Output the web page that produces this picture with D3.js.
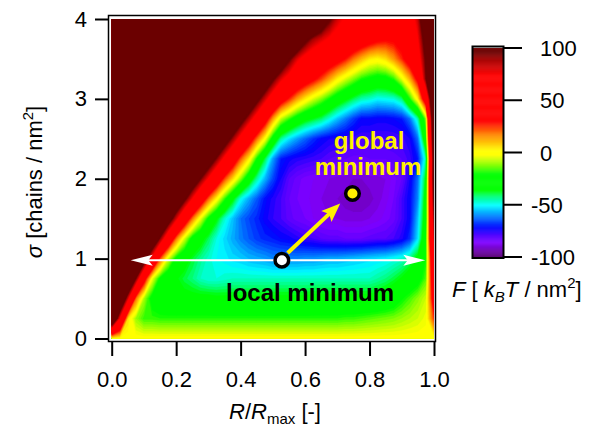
<!DOCTYPE html>
<html>
<head>
<meta charset="utf-8">
<script src="https://cdn.jsdelivr.net/npm/d3@7"></script>
<style>
  body { margin: 0; background: #fff; }
  text { font-family: "Liberation Sans", Arial, sans-serif; }
</style>
</head>
<body>
<svg id="chart" width="603" height="427"></svg>
<script>
// grid of the free energy map
const rGrid = [0, 0.025, 0.05, 0.075, 0.1, 0.125, 0.15, 0.175, 0.2, 0.225, 0.25, 0.275, 0.3, 0.325, 0.35, 0.375,
  0.4, 0.425, 0.45, 0.475, 0.5, 0.525, 0.55, 0.575, 0.6, 0.625, 0.65, 0.675, 0.7, 0.725, 0.75, 0.775,
  0.8, 0.825, 0.85, 0.875, 0.9, 0.925, 0.95, 0.975, 1.0];
const sigmaGrid = [0, 0.25, 0.5, 0.75, 1.0, 1.25, 1.5, 1.75, 2.0, 2.25, 2.5, 2.75, 3.0, 3.25, 3.5, 3.75, 4.0];

// one row per sigma value (bottom to top), one column per R/Rmax value
// (values above 100 sit in the clipped dark red region and are only guesses)
const F = [
  [0,0,0,0,0,0,0,0,0,0,0,0,0,0,0,0,0,0,0,0,0,0,0,0,0,0,0,0,0,0,0,0,0,0,0,0,0,0,0,0,0],
  [145,71,6,-10,-17,-17,-18,-18,-18,-18,-18,-18,-18,-18,-18,-18,-18,-18,-18,-18,-18,-18,-18,-18,-18,-18,-18,-18,-18,-17,-17,-16,-15,-14,-13,-12,-10,-8,-6,-3,25],
  [209,144,79,19,-9,-24,-29,-32,-33,-33,-33,-33,-33,-34,-34,-34,-34,-34,-34,-34,-34,-34,-34,-34,-34,-33,-33,-33,-33,-33,-33,-33,-33,-32,-30,-27,-21,-16,-11,-6,40],
  [263,207,151,95,39,-2,-22,-30,-35,-39,-42,-46,-48,-48,-47,-46,-46,-46,-46,-46,-46,-46,-46,-46,-46,-46,-46,-46,-46,-46,-46,-46,-46,-44,-42,-39,-35,-30,-25,-15,50],
  [299,253,206,160,114,67,23,-5,-23,-31,-38,-43,-47,-50,-51,-53,-54,-56,-57,-58,-60,-60,-60,-60,-59,-59,-58,-57,-57,-56,-55,-54,-53,-52,-51,-49,-47,-42,-33,-20,60],
  [324,285,247,208,169,131,92,53,19,-5,-24,-32,-40,-48,-53,-57,-61,-64,-67,-69,-70,-72,-73,-75,-77,-78,-80,-81,-81,-82,-82,-82,-81,-80,-80,-78,-75,-68,-52,-22,80],
  [346,313,279,246,213,180,147,114,80,47,19,-3,-22,-35,-47,-55,-62,-66,-69,-73,-76,-78,-81,-83,-84,-86,-87,-88,-88,-89,-89,-89,-88,-87,-85,-83,-78,-72,-55,-28,90],
  [359,331,302,274,245,217,188,160,131,103,74,46,21,2,-17,-34,-49,-57,-64,-71,-75,-78,-82,-84,-85,-87,-88,-89,-90,-91,-92,-92,-91,-89,-87,-84,-78,-72,-60,-30,100],
  [372,347,322,297,272,247,222,197,172,147,122,97,72,47,24,7,-11,-29,-44,-56,-66,-74,-80,-83,-85,-86,-87,-88,-89,-89,-90,-90,-89,-89,-88,-85,-82,-74,-62,-35,110],
  [414,389,365,340,316,291,266,242,217,193,168,143,119,94,69,45,22,4,-20,-39,-58,-70,-73,-75,-76,-77,-78,-80,-81,-82,-83,-83,-82,-82,-82,-81,-80,-77,-70,-45,110],
  [454,430,405,381,357,333,308,284,260,236,211,187,163,139,114,90,66,42,20,0,-25,-44,-52,-58,-63,-68,-72,-74,-75,-76,-77,-78,-78,-78,-78,-78,-77,-74,-62,-25,120],
  [475,452,429,406,384,361,338,315,292,269,246,224,201,178,155,132,109,86,63,40,14,-7,-17,-26,-33,-37,-41,-48,-55,-61,-67,-72,-72,-73,-73,-72,-70,-62,-45,-12,130],
  [555,530,505,480,455,430,405,380,355,330,305,280,255,230,205,180,155,130,105,82,60,40,27,14,4,-5,-12,-20,-28,-34,-40,-45,-47,-50,-49,-48,-42,-19,3,45,140],
  [600,575,550,525,500,475,450,425,400,375,350,325,300,275,250,225,200,175,150,125,100,79,65,51,41,33,24,14,3,-5,-12,-19,-22,-25,-24,-18,-4,12,34,95,150],
  [650,625,600,575,550,525,500,475,450,425,400,375,350,325,300,275,250,225,200,175,150,125,100,79,66,58,50,43,37,29,19,11,4,2,6,15,26,40,62,100,160],
  [705,680,655,630,605,580,555,530,505,480,455,430,405,380,355,330,305,280,255,230,205,180,155,130,105,89,80,72,64,57,50,44,39,34,32,33,38,50,73,110,170],
  [775,750,725,700,675,650,625,600,575,550,525,500,475,450,425,400,375,350,325,300,275,250,225,200,175,150,125,100,82,71,64,57,53,49,47,47,50,61,83,129,180]
];

const xTicks = [0, 0.2, 0.4, 0.6, 0.8, 1.0];
const yTicks = [0, 1, 2, 3, 4];
const cbTicks = [100, 50, 0, -50, -100];

const localMin = [0.528, 0.98];
const globalMin = [0.747, 1.815];
const hArrow = [[0.059, 0.98], [0.973, 0.98]];
const moveArrow = [[0.546, 1.07], [0.709, 1.69]];

// colour table
const colorStops = [-100, -93, -86, -79, -72, -62, -50, -42, -36, -20, -12, -2, 2, 10, 18, 30, 74, 90, 96, 100];
const colorRange = ["#58006e", "#6e00b4", "#8000ff", "#5000ff", "#0000ff", "#0070ff", "#00ffff", "#00ff80",
  "#00ff00", "#00ff00", "#80ff00", "#ffff00", "#ffff00", "#ffc000", "#ff8000", "#ff0000", "#ff0000",
  "#a00000", "#6e0000", "#6b0000"];

const color = d3.scaleLinear().domain(colorStops).range(colorRange).clamp(true);

const svg = d3.select("#chart");

const x = d3.scaleLinear().domain([0, 1]).range([111.7, 434]);
const y = d3.scaleLinear().domain([0, 4]).range([338.5, 19]);

// clip for the map
svg.append("defs").append("clipPath").attr("id", "plotClip")
  .append("rect")
    .attr("x", x(0)).attr("y", y(4))
    .attr("width", x(1) - x(0)).attr("height", y(0) - y(4));

// filled contours
const nx = rGrid.length, ny = sigmaGrid.length;
const values = F.flat();
const levels = d3.range(-100, 101, 2);
const bands = d3.contours().size([nx, ny]).thresholds(levels)(values);
const dr = rGrid[1] - rGrid[0], ds = sigmaGrid[1] - sigmaGrid[0];
const proj = d3.geoTransform({
  point: function(px, py) {
    this.stream.point(x(rGrid[0] + (px - 0.5) * dr), y(sigmaGrid[0] + (py - 0.5) * ds));
  }
});
const path = d3.geoPath(proj);

svg.append("g")
    .attr("clip-path", "url(#plotClip)")
  .selectAll("path")
  .data(bands)
  .join("path")
    .attr("d", path)
    .attr("fill", d => color(d.value + 1))
    .attr("stroke", d => color(d.value + 1))
    .attr("stroke-width", 0.3);

// frame
svg.append("rect")
    .attr("x", 108.5).attr("y", 15.5)
    .attr("width", 327).attr("height", 326)
    .attr("fill", "none")
    .attr("stroke", "#000")
    .attr("stroke-width", 1.5);

// X axis
const xAxis = svg.append("g")
    .attr("transform", "translate(0,342)")
    .call(d3.axisBottom(x).tickValues(xTicks).tickFormat(d3.format(".1f")).tickSize(14).tickPadding(15));
xAxis.select(".domain").remove();
xAxis.selectAll("line").attr("stroke-width", 2);
xAxis.selectAll("text").attr("font-size", 22).attr("font-family", "Liberation Sans, Arial, sans-serif").attr("fill", "#000");

// Y axis
const yAxis = svg.append("g")
    .attr("transform", "translate(108,0)")
    .call(d3.axisLeft(y).tickValues(yTicks).tickFormat(d3.format("d")).tickSize(13).tickPadding(8));
yAxis.select(".domain").remove();
yAxis.selectAll("line").attr("stroke-width", 2);
yAxis.selectAll("text").attr("font-size", 22).attr("font-family", "Liberation Sans, Arial, sans-serif").attr("fill", "#000");

// axis titles
const xt = svg.append("text")
    .attr("x", 275).attr("y", 419)
    .attr("text-anchor", "middle")
    .attr("font-size", 22);
xt.append("tspan").attr("font-style", "italic").text("R");
xt.append("tspan").text("/");
xt.append("tspan").attr("font-style", "italic").text("R");
xt.append("tspan").attr("font-size", 15).attr("dy", 5).text("max");
xt.append("tspan").attr("dy", -5).text(" [-]");

const yt = svg.append("text")
    .attr("transform", "translate(42,182) rotate(-90)")
    .attr("text-anchor", "middle")
    .attr("font-size", 22);
yt.append("tspan").attr("font-style", "italic").text("\u03c3");
yt.append("tspan").text(" [chains / nm");
yt.append("tspan").attr("font-size", 15).attr("dy", -9).text("2");
yt.append("tspan").attr("dy", 9).text("]");

// arrows and markers
const lineY = y(hArrow[0][1]);
function head(tipX, tipY, ux, uy, len, half, fill) {
  const px = -uy, py = ux;
  const bx = tipX - ux * len, by = tipY - uy * len;
  const pts = [
    [tipX, tipY],
    [bx + px * half, by + py * half],
    [tipX - ux * len * 0.8, tipY - uy * len * 0.8],
    [bx - px * half, by - py * half]
  ];
  svg.append("polygon").attr("points", pts.map(p => p.join(",")).join(" ")).attr("fill", fill);
}

svg.append("line")
    .attr("x1", x(hArrow[0][0]) + 15).attr("x2", x(hArrow[1][0]) - 15)
    .attr("y1", lineY).attr("y2", lineY)
    .attr("stroke", "#fff").attr("stroke-width", 2);
head(x(hArrow[0][0]), lineY, -1, 0, 22, 5.5, "#fff");
head(x(hArrow[1][0]), lineY, 1, 0, 22, 5.5, "#fff");

const ax1 = x(moveArrow[0][0]), ay1 = y(moveArrow[0][1]);
const ax2 = x(moveArrow[1][0]), ay2 = y(moveArrow[1][1]);
const alen = Math.hypot(ax2 - ax1, ay2 - ay1);
const ux = (ax2 - ax1) / alen, uy = (ay2 - ay1) / alen;
svg.append("line")
    .attr("x1", ax1).attr("y1", ay1)
    .attr("x2", ax2 - ux * 14).attr("y2", ay2 - uy * 14)
    .attr("stroke", "#fff000").attr("stroke-width", 4);
head(ax2, ay2, ux, uy, 19, 7.5, "#fff000");

svg.append("circle")
    .attr("cx", x(localMin[0])).attr("cy", y(localMin[1])).attr("r", 6.8)
    .attr("fill", "#fff").attr("stroke", "#000").attr("stroke-width", 3.5);
svg.append("circle")
    .attr("cx", x(globalMin[0])).attr("cy", y(globalMin[1])).attr("r", 6.8)
    .attr("fill", "#fff000").attr("stroke", "#000").attr("stroke-width", 3.5);

// annotations
svg.append("text").attr("x", 369).attr("y", 149).attr("text-anchor", "middle")
    .attr("font-size", 24).attr("font-weight", "bold").attr("fill", "#fff000").text("global");
svg.append("text").attr("x", 368).attr("y", 175).attr("text-anchor", "middle")
    .attr("font-size", 24).attr("font-weight", "bold").attr("fill", "#fff000").text("minimum");
svg.append("text").attr("x", 310).attr("y", 301).attr("text-anchor", "middle")
    .attr("font-size", 24).attr("font-weight", "bold").attr("fill", "#000").text("local minimum");

// colour bar
const cb = d3.scaleLinear().domain([-100, 100]).range([257, 48]);
const cbSteps = d3.range(-100, 100, 0.5);
svg.append("g").selectAll("rect")
  .data(cbSteps)
  .join("rect")
    .attr("x", 473).attr("width", 30)
    .attr("y", d => cb(d + 0.5))
    .attr("height", d => cb(d) - cb(d + 0.5) + 0.4)
    .attr("fill", d => color(d + 0.25));
svg.append("rect")
    .attr("x", 472.5).attr("y", 46.5).attr("width", 31).attr("height", 211.5)
    .attr("fill", "none").attr("stroke", "#000").attr("stroke-width", 2);

const cbg = svg.append("g");
cbg.selectAll("line")
  .data(cbTicks)
  .join("line")
    .attr("x1", 504).attr("x2", 522)
    .attr("y1", d => cb(d)).attr("y2", d => cb(d))
    .attr("stroke", "#000").attr("stroke-width", 2);
cbg.selectAll("text")
  .data(cbTicks)
  .join("text")
    .attr("x", d => d < 0 ? 531 : 540)
    .attr("y", d => cb(d) + 8)
    .attr("font-size", 22)
    .text(d => d < 0 ? "-" + Math.abs(d) : d);

const ft = svg.append("text")
    .attr("x", 452).attr("y", 297)
    .attr("font-size", 22);
ft.append("tspan").attr("font-style", "italic").text("F");
ft.append("tspan").text(" [ ");
ft.append("tspan").attr("font-style", "italic").text("k");
ft.append("tspan").attr("font-style", "italic").attr("font-size", 15).attr("dy", 5).text("B");
ft.append("tspan").attr("font-style", "italic").attr("dy", -5).text("T");
ft.append("tspan").text(" / nm");
ft.append("tspan").attr("font-size", 15).attr("dy", -9).text("2");
ft.append("tspan").attr("dy", 9).text("]");
</script>
</body>
</html>
